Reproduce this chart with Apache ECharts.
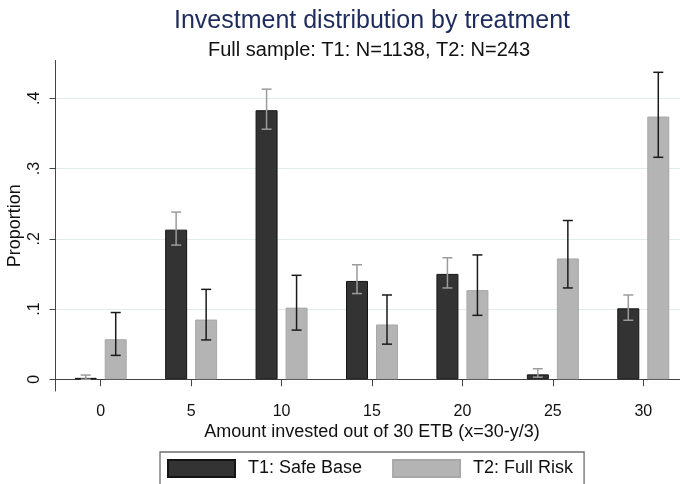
<!DOCTYPE html>
<html>
<head>
<meta charset="utf-8">
<title>Investment distribution by treatment</title>
<script src="https://cdn.jsdelivr.net/npm/echarts@6/dist/echarts.min.js"></script>
<style>
  html, body { margin: 0; padding: 0; background: #ffffff; }
  #chart { width: 680px; height: 484px; }
</style>
</head>
<body>
<div id="chart"></div>
<script>
// Amount invested (ETB) categories
const categories = ['0', '5', '10', '15', '20', '25', '30'];

// T1: Safe Base — share of subjects and 95% CI bounds
const t1Share = [0.002, 0.213, 0.383, 0.140, 0.150, 0.007, 0.101];
const t1Low   = [0.000, 0.191, 0.356, 0.122, 0.130, 0.003, 0.084];
const t1High  = [0.006, 0.238, 0.413, 0.163, 0.173, 0.015, 0.120];

// T2: Full Risk — share of subjects and 95% CI bounds
const t2Share = [0.057, 0.085, 0.102, 0.078, 0.127, 0.172, 0.374];
const t2Low   = [0.034, 0.056, 0.070, 0.050, 0.091, 0.130, 0.316];
const t2High  = [0.095, 0.128, 0.148, 0.120, 0.177, 0.226, 0.437];

// Y-axis tick values
const yTicks = [0, 0.1, 0.2, 0.3, 0.4];

const FONT = '"Liberation Sans", Arial, sans-serif';
const BAR_W = 22;       // px
const BAR_GAP = 8;      // px between the two bars of a group
const CAP_W = 10;       // px width of CI caps
const OFFSET = (BAR_W + BAR_GAP) / 2;

function ciSeries(name, low, high, color, shift) {
  return {
    name: name + ' CI',
    type: 'custom',
    z: 5,
    silent: true,
    data: categories.map((c, i) => [i, low[i], high[i]]),
    renderItem: function (params, api) {
      const lo = api.coord([api.value(0), api.value(1)]);
      const hi = api.coord([api.value(0), api.value(2)]);
      const x = lo[0] + shift;
      const style = { stroke: color, lineWidth: 1.5 };
      return {
        type: 'group',
        children: [
          { type: 'line', shape: { x1: x, y1: lo[1], x2: x, y2: hi[1] }, style: style },
          { type: 'line', shape: { x1: x - CAP_W / 2, y1: lo[1], x2: x + CAP_W / 2, y2: lo[1] }, style: style },
          { type: 'line', shape: { x1: x - CAP_W / 2, y1: hi[1], x2: x + CAP_W / 2, y2: hi[1] }, style: style }
        ]
      };
    }
  };
}

const chart = echarts.init(document.getElementById('chart'), null, { renderer: 'canvas' });

chart.setOption({
  animation: false,
  backgroundColor: '#ffffff',
  textStyle: { fontFamily: FONT },
  title: [
    {
      text: 'Investment distribution by treatment',
      left: 367, top: 4, textAlign: 'center',
      textStyle: { fontFamily: FONT, fontSize: 25, fontWeight: 'normal', color: '#1e2b5e' }
    },
    {
      text: 'Full sample: T1: N=1138, T2: N=243',
      left: 364, top: 35, textAlign: 'center',
      textStyle: { fontFamily: FONT, fontSize: 20, fontWeight: 'normal', color: '#111111' }
    }
  ],
  legend: {
    left: 160, top: 452,
    orient: 'horizontal',
    data: ['T1: Safe Base', 'T2: Full Risk'],
    icon: 'rect',
    itemWidth: 67, itemHeight: 17,
    itemGap: 30,
    padding: [7, 11, 20, 7],
    borderColor: '#6e6e6e', borderWidth: 1.3,
    backgroundColor: '#ffffff',
    textStyle: { fontFamily: FONT, fontSize: 18, color: '#111111', padding: [0, 0, 0, 8] }
  },
  grid: { left: 55.5, top: 60.5, width: 633, height: 330.5, containLabel: false, outerBoundsMode: 'none' },
  xAxis: {
    type: 'category',
    data: categories,
    boundaryGap: true,
    name: 'Amount invested out of 30 ETB (x=30-y/3)',
    nameLocation: 'middle',
    nameGap: 32,
    nameMoveOverlap: false,
    nameTextStyle: { fontFamily: FONT, fontSize: 18, color: '#111111' },
    axisLine: { show: true, lineStyle: { color: '#444444', width: 1 } },
    axisTick: { show: true, alignWithLabel: true, length: 7, lineStyle: { color: '#444444' } },
    axisLabel: { fontFamily: FONT, fontSize: 16, color: '#111111', margin: 13 },
    splitLine: { show: false }
  },
  yAxis: {
    type: 'value',
    min: -0.0167, max: 0.4538,
    name: 'Proportion',
    nameLocation: 'middle',
    nameGap: 31,
    nameMoveOverlap: false,
    nameTextStyle: { fontFamily: FONT, fontSize: 18, color: '#111111' },
    axisLine: { show: true, lineStyle: { color: '#444444', width: 1 } },
    axisTick: { show: true, length: 6, customValues: yTicks, lineStyle: { color: '#444444' } },
    axisLabel: {
      customValues: yTicks,
      rotate: 90, margin: 13,
      fontFamily: FONT, fontSize: 16, color: '#111111',
      formatter: function (v) {
        if (Math.abs(v) < 1e-9) return '0';
        return String(Math.round(v * 10) / 10).replace(/^0\./, '.');
      }
    },
    splitLine: { show: true, lineStyle: { color: '#e3ecec', width: 1 } }
  },
  series: [
    {
      name: 'T1: Safe Base',
      type: 'bar',
      data: t1Share,
      barWidth: BAR_W,
      barGap: (BAR_GAP / BAR_W * 100) + '%',
      itemStyle: { color: '#333333', borderColor: '#141414', borderWidth: 1 }
    },
    {
      name: 'T2: Full Risk',
      type: 'bar',
      data: t2Share,
      barWidth: BAR_W,
      barGap: (BAR_GAP / BAR_W * 100) + '%',
      itemStyle: { color: '#b4b4b4', borderColor: '#a8a8a8', borderWidth: 1 }
    },
    ciSeries('T1: Safe Base', t1Low, t1High, '#9c9c9c', -OFFSET),
    ciSeries('T2: Full Risk', t2Low, t2High, '#1a1a1a', OFFSET)
  ]
});
</script>
</body>
</html>
